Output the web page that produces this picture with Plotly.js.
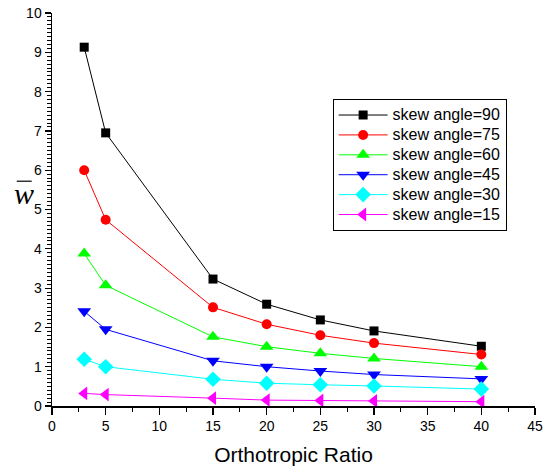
<!DOCTYPE html>
<html>
<head>
<meta charset="utf-8">
<script src="https://cdn.plot.ly/plotly-3.0.1.min.js"></script>
<style>html,body{margin:0;padding:0;background:#fff;}#chart{width:555px;height:467px;}</style>
</head>
<body>
<div id="chart"></div>
<script>
const ratio = [3, 5, 15, 20, 25, 30, 40];
const skew90 = [9.13, 6.95, 3.23, 2.59, 2.19, 1.91, 1.52];
const skew75 = [6.00, 4.74, 2.51, 2.08, 1.80, 1.60, 1.31];
const skew60 = [3.88, 3.07, 1.76, 1.51, 1.34, 1.21, 1.00];
const skew45 = [2.41, 1.95, 1.15, 1.00, 0.89, 0.80, 0.69];
const skew30 = [1.19, 1.00, 0.68, 0.58, 0.54, 0.51, 0.43];
const skew15 = [0.32, 0.29, 0.20, 0.15, 0.14, 0.13, 0.11];
const seriesNames = ['skew angle=90','skew angle=75','skew angle=60','skew angle=45','skew angle=30','skew angle=15'];

const seriesData = [skew90, skew75, skew60, skew45, skew30, skew15];
const colors = ['#000000','#ff0000','#00ff00','#0000ff','#00ffff','#ff00ff'];
const symbols = ['square','circle','triangle-up','triangle-down','diamond','triangle-left'];
const sizes = [9, 10, 12, 12, 12, 12];

const traces = seriesData.map((ys, i) => ({
  x: ratio, y: ys, name: '<span style="font-size:16px">' + seriesNames[i] + '</span>',
  type: 'scatter', mode: 'lines+markers',
  line: {color: colors[i], width: 1},
  marker: {color: colors[i], symbol: symbols[i], size: sizes[i]}
}));

const tickFont = {family: 'Liberation Sans, Arial, sans-serif', size: 14, color: '#000'};
const layout = {
  width: 555, height: 467,
  margin: {l: 52, r: 20, t: 12.5, b: 61},
  paper_bgcolor: '#fff', plot_bgcolor: '#fff',
  showlegend: true,
  legend: {x: 0.581, y: 0.781, xanchor: 'left', yanchor: 'top',
    bordercolor: '#000', borderwidth: 1, bgcolor: '#fff', itemwidth: 49,
    font: {family: 'Liberation Sans, Arial, sans-serif', size: 13, color: '#000'}},
  xaxis: {range: [0, 45], dtick: 5, tick0: 0, showgrid: false, zeroline: false,
    showline: true, linecolor: '#000', linewidth: 1.5,
    ticks: 'outside', ticklen: 7, tickwidth: 1.2, tickcolor: '#000',
    minor: {dtick: 2.5, tick0: 0, ticks: 'outside', ticklen: 4, tickwidth: 1, tickcolor: '#000'},
    tickfont: tickFont,
    title: {text: 'Orthotropic Ratio', font: {family: 'Liberation Sans, Arial, sans-serif', size: 21, color: '#000'}, standoff: 14}},
  yaxis: {range: [0, 10], dtick: 1, tick0: 0, showgrid: false, zeroline: false,
    showline: true, linecolor: '#000', linewidth: 1.5,
    ticks: 'outside', ticklen: 6, tickwidth: 1.2, tickcolor: '#000',
    minor: {dtick: 0.1, tick0: 0, ticks: 'outside', ticklen: 4, tickwidth: 1, tickcolor: '#000'},
    tickfont: tickFont},
  xaxis2: {overlaying: 'x', side: 'top', anchor: 'y', range: [0, 45], dtick: 5, tick0: 0,
    showgrid: false, zeroline: false, showline: true, linecolor: '#000', linewidth: 1.5,
    ticks: 'inside', ticklen: 6, tickwidth: 1.2, tickcolor: '#000', showticklabels: false,
    minor: {dtick: 2.5, tick0: 0, ticks: 'inside', ticklen: 4, tickwidth: 1, tickcolor: '#000'}},
  yaxis2: {overlaying: 'y', side: 'right', anchor: 'x', range: [0, 10], dtick: 1, tick0: 0,
    showgrid: false, zeroline: false, showline: true, linecolor: '#000', linewidth: 1.5,
    ticks: 'inside', ticklen: 6, tickwidth: 1.2, tickcolor: '#000', showticklabels: false,
    minor: {dtick: 0.1, tick0: 0, ticks: 'inside', ticklen: 4, tickwidth: 1, tickcolor: '#000'}},
  annotations: [{xref: 'paper', yref: 'paper', x: -0.058, y: 0.541, xanchor: 'center', yanchor: 'middle',
    text: '<i>w</i>', showarrow: false,
    font: {family: 'Liberation Serif, Times New Roman, serif', size: 30, color: '#000'}}],
  shapes: [{type: 'line', xref: 'paper', yref: 'paper', x0: -0.073, x1: -0.042, y0: 0.572, y1: 0.572,
    line: {color: '#000', width: 1.2}}]
};

Plotly.newPlot('chart', traces, layout, {displayModeBar: false, staticPlot: true});
</script>
</body>
</html>
